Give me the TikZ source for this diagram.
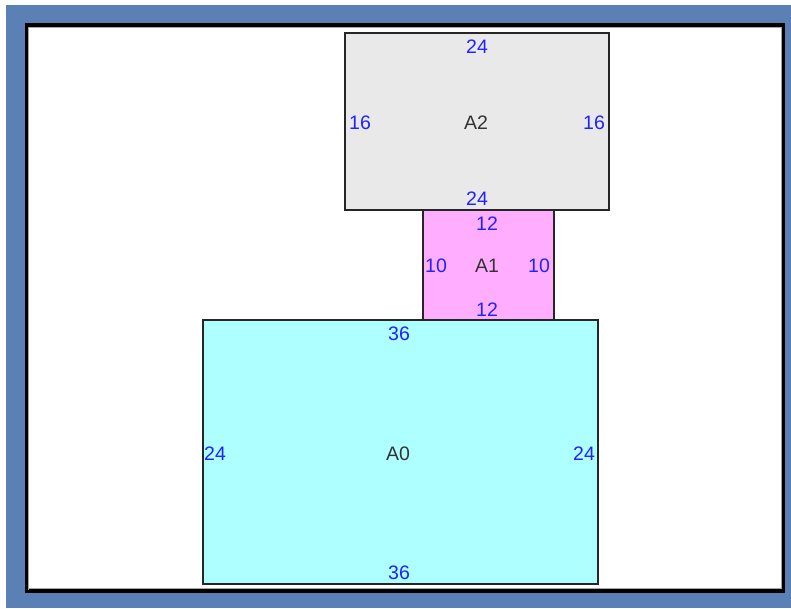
\documentclass[tikz,border=0pt]{standalone}
\usepackage{fontspec}
\setmainfont{Liberation Sans}
\definecolor{frameblue}{HTML}{5B80B5}
\definecolor{numblue}{HTML}{2222FF}
\definecolor{txtdark}{HTML}{333333}
\definecolor{boxgray}{HTML}{E9E9E9}
\definecolor{boxpink}{HTML}{FFAEFF}
\definecolor{boxcyan}{HTML}{AEFFFF}
\tikzset{
  room/.style={draw=black!85,line width=2pt,inner sep=0pt,outer sep=0pt,anchor=north west},
  num/.style={text=numblue,font=\fontsize{19.5}{21}\selectfont,inner sep=0pt},
  lbl/.style={text=txtdark,font=\fontsize{19.5}{21}\selectfont,inner sep=0pt}
}
\begin{document}
\begin{tikzpicture}[x=1pt,y=-1pt]
\useasboundingbox (0,0) rectangle (791,608);
\fill[white] (0,0) rectangle (791,608);
\fill[frameblue] (6,5) rectangle (791,608);
\fill[white,draw=black,line width=3.5pt] (26.5,25) rectangle (783.5,591);
\draw[gray!70,line width=1pt] (28.8,590) -- (28.8,27.8) -- (782,27.8);
\draw[gray!70,line width=1pt] (781.7,28) -- (781.7,588.7) -- (29,588.7);
\node[room,fill=boxgray,minimum width=264pt,minimum height=177pt] (a2) at (345,33) {};
\node[room,fill=boxpink,minimum width=131pt,minimum height=110pt] (a1) at (423,210) {};
\node[room,fill=boxcyan,minimum width=395pt,minimum height=264pt] (a0) at (203,320) {};
\node[lbl] (la2) at (476,122.5) {A2};
\node[lbl] (la1) at (487,265.5) {A1};
\node[lbl] (la0) at (398,453.5) {A0};
\node[num] (a2t) at (477,46.5) {24};
\node[num] (a2b) at (477,198.5) {24};
\node[num] (a2l) at (360,122.5) {16};
\node[num] (a2r) at (594,122.5) {16};
\node[num] (a1t) at (487,223.5) {12};
\node[num] (a1b) at (487,309.5) {12};
\node[num] (a1l) at (436,265.5) {10};
\node[num] (a1r) at (539,265.5) {10};
\node[num] (a0t) at (399,333.5) {36};
\node[num] (a0b) at (399,572.5) {36};
\node[num] (a0l) at (215,453.5) {24};
\node[num] (a0r) at (584,453.5) {24};
\end{tikzpicture}
\end{document}
